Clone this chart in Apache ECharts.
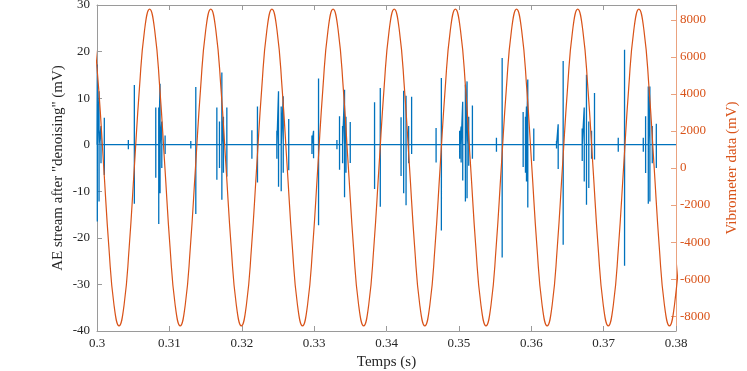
<!DOCTYPE html>
<html>
<head>
<meta charset="utf-8">
<script src="https://cdn.jsdelivr.net/npm/echarts@6/dist/echarts.min.js"></script>
<style>
  html, body { margin: 0; padding: 0; background: #fff; }
  #chart { width: 747px; height: 371px; }
</style>
</head>
<body>
<div id="chart"></div>
<script>
// vibrometer signal (mV)
var vibTime = [
  0.299524, 0.300228, 0.300933, 0.301637, 0.302341, 0.303045, 0.303749, 0.304453, 0.305158, 0.305862, 0.306566,
  0.307270, 0.307974, 0.308678, 0.309383, 0.310087, 0.310791, 0.311495, 0.312199, 0.312903, 0.313608, 0.314312, 0.315016,
  0.315720, 0.316424, 0.317128, 0.317833, 0.318537, 0.319241, 0.319945, 0.320649, 0.321353, 0.322058, 0.322762, 0.323466,
  0.324170, 0.324874, 0.325578, 0.326283, 0.326987, 0.327691, 0.328395, 0.329099, 0.329803, 0.330508, 0.331212, 0.331916,
  0.332620, 0.333324, 0.334028, 0.334733, 0.335437, 0.336141, 0.336845, 0.337549, 0.338253, 0.338958, 0.339662, 0.340366,
  0.341070, 0.341774, 0.342478, 0.343183, 0.343887, 0.344591, 0.345295, 0.345999, 0.346703, 0.347408, 0.348112, 0.348816,
  0.349520, 0.350224, 0.350928, 0.351633, 0.352337, 0.353041, 0.353745, 0.354449, 0.355153, 0.355858, 0.356562, 0.357266,
  0.357970, 0.358674, 0.359378, 0.360083, 0.360787, 0.361491, 0.362195, 0.362899, 0.363603, 0.364308, 0.365012, 0.365716,
  0.366420, 0.367124, 0.367828, 0.368533, 0.369237, 0.369941, 0.370645, 0.371349, 0.372053, 0.372758, 0.373462, 0.374166,
  0.374870, 0.375574, 0.376278, 0.376983, 0.377687, 0.378391, 0.379095, 0.379799, 0.380503
]
var vibValue = [
  7430, 4300, 30, -4250, -7370, -8520, -7370, -4250, 30, 4300, 7430,
  8580, 7430, 4300, 30, -4250, -7370, -8520, -7370, -4250, 30, 4300, 7430,
  8580, 7430, 4300, 30, -4250, -7370, -8520, -7370, -4250, 30, 4300, 7430,
  8580, 7430, 4300, 30, -4250, -7370, -8520, -7370, -4250, 30, 4300, 7430,
  8580, 7430, 4300, 30, -4250, -7370, -8520, -7370, -4250, 30, 4300, 7430,
  8580, 7430, 4300, 30, -4250, -7370, -8520, -7370, -4250, 30, 4300, 7430,
  8580, 7430, 4300, 30, -4250, -7370, -8520, -7370, -4250, 30, 4300, 7430,
  8580, 7430, 4300, 30, -4250, -7370, -8520, -7370, -4250, 30, 4300, 7430,
  8580, 7430, 4300, 30, -4250, -7370, -8520, -7370, -4250, 30, 4300, 7430,
  8580, 7430, 4300, 30, -4250, -7370, -8520, -7370, -4250
]

// AE bursts: time of each spike, its positive and negative excursion (mV)
var aeTime = [
  0.30004, 0.30028, 0.30055, 0.30101, 0.30433, 0.30516, 0.30812, 0.30853, 0.30871, 0.30895,
  0.30941, 0.31296, 0.31365, 0.31656, 0.31692, 0.31725, 0.31747, 0.31794, 0.32140, 0.32217,
  0.32485, 0.32508, 0.32545, 0.32573, 0.32649, 0.32970, 0.32992, 0.33061, 0.33315, 0.33351,
  0.33393, 0.33420, 0.33440, 0.33499, 0.33835, 0.33914, 0.34201, 0.34237, 0.34270, 0.34306,
  0.34347, 0.34685, 0.34758, 0.35011, 0.35031, 0.35053, 0.35090, 0.35113, 0.35136, 0.35187,
  0.35519, 0.35598, 0.35888, 0.35920, 0.35934, 0.35952, 0.36035, 0.36349, 0.36372, 0.36441,
  0.36704, 0.36732, 0.36763, 0.36795, 0.36833, 0.36874, 0.37202, 0.37289, 0.37548, 0.37580,
  0.37617, 0.37639, 0.37672, 0.37728
]
var aeHigh = [
  17.2, 11.5, 4, 5.8, 1, 12.8, 8, 8, 13.1, 5,
  2, 0.8, 12.4, 8, 5, 15.5, 6, 8, 3.1, 8.2,
  3, 11.5, 8.2, 10.4, 5.5, 2, 3, 14.2, 1, 6.1,
  4, 11.8, 6, 4.9, 9.1, 12.2, 5.9, 11.6, 10.5, 4,
  10.3, 3.6, 14.3, 3, 3.9, 9.2, 12.9, 13.6, 6, 8.4,
  1.5, 18.6, 7, 6, 8.2, 14, 3.5, 0.8, 4.4, 18,
  3.5, 8, 15, 5, 3, 11.1, 1.5, 20.4, 1.5, 6.1,
  12.5, 12.5, 4, 4.5
]
var aeLow = [
  -16.5, -12.2, -4, -6.5, -1, -12.7, -7.1, -17, -10.4, -5,
  -2, -0.8, -14.9, -7.5, -5, -11.8, -6, -6.8, -3, -8.1,
  -3, -9, -10, -6, -5.5, -2, -2.9, -17.3, -1, -5.4,
  -4, -11.3, -6, -3.9, -9.5, -13.3, -6.7, -10.4, -13, -4,
  -2, -3.8, -18.4, -3, -3.8, -7.7, -12.2, -11.5, -4.5, -3,
  -1.5, -24.2, -4.8, -6, -7.9, -13.5, -3.5, -0.8, -5.2, -21.5,
  -3.5, -7.9, -12.9, -9.3, -3, -3.2, -1.5, -26, -1.5, -6.1,
  -12.7, -12.2, -4, -5
]

var vibTicks = [-8000, -6000, -4000, -2000, 0, 2000, 4000, 6000, 8000]

var vibData = vibTime.map(function (t, i) { return [t, vibValue[i]] })

var dt = 0.000003
var aeData = [[0.3, 0]]
aeTime.forEach(function (t, i) {
  aeData.push([t - dt, 0], [t, aeHigh[i]], [t + dt, aeLow[i]], [t + 2 * dt, 0])
})
aeData.push([0.38, 0])

var chart = echarts.init(document.getElementById('chart'), null, { renderer: 'canvas' })
var serif = '"Liberation Serif", "DejaVu Serif", serif'
var orange = '#D95319'
var blue = '#0072BD'

chart.setOption({
  animation: false,
  textStyle: { fontFamily: serif },
  grid: { left: 97, right: 71, top: 5, bottom: 40, containLabel: false, outerBoundsMode: 'none' },
  xAxis: [{
    type: 'value',
    min: 0.3,
    max: 0.38,
    interval: 0.01,
    name: 'Temps (s)',
    nameLocation: 'middle',
    nameGap: 23,
    nameTextStyle: { fontFamily: serif, fontSize: 15, color: '#262626' },
    axisLine: { show: true, onZero: false, lineStyle: { color: '#9a9a9a', width: 1 } },
    axisTick: { show: true, inside: true, length: 5, lineStyle: { color: '#9a9a9a' } },
    axisLabel: {
      margin: 6, fontFamily: serif, fontSize: 13, color: '#262626',
      formatter: function (v) { return String(+v.toFixed(2)) }
    },
    splitLine: { show: false }
  }, {
    type: 'value',
    position: 'top',
    min: 0.3,
    max: 0.38,
    interval: 0.01,
    axisLine: { show: true, onZero: false, lineStyle: { color: '#9a9a9a', width: 1 } },
    axisTick: { show: true, inside: true, length: 5, lineStyle: { color: '#9a9a9a' } },
    axisLabel: { show: false },
    splitLine: { show: false }
  }],
  yAxis: [{
    type: 'value',
    position: 'left',
    min: -40,
    max: 30,
    interval: 10,
    name: 'AE stream after "denoising" (mV)',
    nameLocation: 'middle',
    nameRotate: 90,
    nameGap: 31,
    nameMoveOverlap: false,
    nameTextStyle: { fontFamily: serif, fontSize: 15, color: '#262626' },
    axisLine: { show: true, onZero: false, lineStyle: { color: '#9a9a9a', width: 1 } },
    axisTick: { show: true, inside: true, length: 5, lineStyle: { color: '#9a9a9a' } },
    axisLabel: { margin: 7, fontFamily: serif, fontSize: 13, color: '#262626' },
    splitLine: { show: false }
  }, {
    type: 'value',
    position: 'right',
    min: -8800,
    max: 8800,
    name: 'Vibrometer data (mV)',
    nameLocation: 'middle',
    nameRotate: 90,
    nameGap: 49,
    nameTextStyle: { fontFamily: serif, fontSize: 15, color: orange },
    axisLine: { show: true, onZero: false, lineStyle: { color: '#eaa27f', width: 1 } },
    axisTick: { show: true, inside: true, length: 5, customValues: vibTicks, lineStyle: { color: '#eaa27f' } },
    axisLabel: {
      margin: 4, fontFamily: serif, fontSize: 13, color: orange, customValues: vibTicks,
      formatter: function (v) { return String(v) }
    },
    splitLine: { show: false }
  }],
  series: [{
    name: 'AE',
    type: 'line',
    xAxisIndex: 0,
    yAxisIndex: 0,
    data: aeData,
    showSymbol: false,
    symbol: 'none',
    lineStyle: { color: blue, width: 1.3 },
    z: 2
  }, {
    name: 'Vibrometer',
    type: 'line',
    xAxisIndex: 0,
    yAxisIndex: 1,
    data: vibData,
    smooth: true,
    showSymbol: false,
    symbol: 'none',
    lineStyle: { color: orange, width: 1.2 },
    z: 3
  }]
})
</script>
</body>
</html>
